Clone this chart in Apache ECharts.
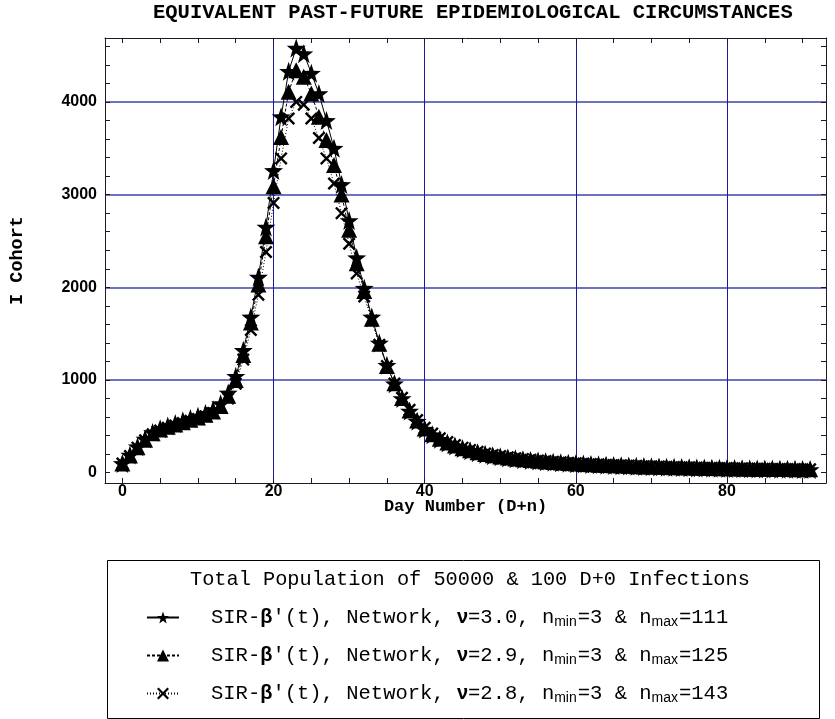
<!DOCTYPE html>
<html><head><meta charset="utf-8">
<script src="https://cdn.jsdelivr.net/npm/echarts@6/dist/echarts.min.js"></script>
<style>html,body{margin:0;padding:0;background:#fff}#c{width:835px;height:719px}</style>
</head><body><div id="c"></div>
<script>
const days = [0,1,2,3,4,5,6,7,8,9,10,11,12,13,14,15,16,17,18,19,20,21,22,23,24,25,26,27,28,29,30,31,32,33,34,35,36,37,38,39,40,41,42,43,44,45,46,47,48,49,50,51,52,53,54,55,56,57,58,59,60,61,62,63,64,65,66,67,68,69,70,71,72,73,74,75,76,77,78,79,80,81,82,83,84,85,86,87,88,89,90,91];
const starVals = [100,190,280,365,435,475,505,530,560,585,610,640,680,745,860,1040,1320,1680,2110,2650,3260,3840,4330,4580,4520,4310,4090,3800,3500,3110,2720,2320,1990,1680,1400,1160,960,800,665,555,470,410,360,320,288,260,236,216,199,184,171,160,150,141,133,126,119,113,107,102,97,93,89,85,81,78,75,72,69,67,64,62,60,58,56,54,52,51,49,48,46,45,44,42,41,40,39,38,37,36,35,34];
const triVals = [100,185,275,355,425,465,495,520,545,570,595,625,660,720,830,1000,1270,1620,2030,2550,3090,3620,4110,4340,4270,4090,3840,3590,3320,3000,2620,2260,1960,1660,1390,1150,965,805,672,562,478,416,366,326,293,265,241,221,203,188,175,164,154,145,137,129,122,116,110,105,100,95,91,87,83,80,77,74,71,68,66,64,62,60,58,56,54,52,51,49,48,46,45,44,43,42,41,40,39,38,37,36];
const crossVals = [100,180,270,350,415,455,485,510,535,560,580,610,645,700,800,960,1220,1540,1920,2380,2910,3390,3820,4000,3970,3820,3610,3390,3120,2800,2470,2150,1900,1640,1380,1150,962,808,678,568,484,422,372,331,298,270,246,225,207,192,179,167,157,148,140,132,125,119,113,108,103,98,94,90,86,83,80,77,74,71,69,66,64,62,60,58,56,54,53,51,50,48,47,46,45,44,42,41,40,39,38,37];
const seriesNames = ["SIR-β'(t), Network, ν=3.0, nmin=3 & nmax=111", "SIR-β'(t), Network, ν=2.9, nmin=3 & nmax=125", "SIR-β'(t), Network, ν=2.8, nmin=3 & nmax=143"];
const legendRich = ["{p|}SIR-{b|β}'(t), Network, {b|ν}=3.0, n{s|min}=3 & n{s|max}=111", "{p|}SIR-{b|β}'(t), Network, {b|ν}=2.9, n{s|min}=3 & n{s|max}=125", "{p|}SIR-{b|β}'(t), Network, {b|ν}=2.8, n{s|min}=3 & n{s|max}=143"];
const xTickVals = [0,5,10,15,20,25,30,35,40,45,50,55,60,65,70,75,80,85,90];
const xLabelVals = [0,20,40,60,80];
const xGridVals = [20,40,60,80];
const yTickVals = [0,200,400,600,800,1000,1200,1400,1600,1800,2000,2200,2400,2600,2800,3000,3200,3400,3600,3800,4000,4200,4400,4600];
const yLabelVals = [0,1000,2000,3000,4000];
const yGridVals = [1000,2000,3000,4000];
const titleText = 'EQUIVALENT PAST-FUTURE EPIDEMIOLOGICAL CIRCUMSTANCES';
const legendHeader = 'Total Population of 50000 & 100 D+0 Infections';

const STAR = 'path://M0,-10 L2.35,-3.24 L9.51,-3.09 L3.8,1.24 L5.88,8.09 L0,4 L-5.88,8.09 L-3.8,1.24 L-9.51,-3.09 L-2.35,-3.24 Z';
const CROSS = 'path://M1.3,0 L5,3.7 L8.7,0 L10,1.3 L6.3,5 L10,8.7 L8.7,10 L5,6.3 L1.3,10 L0,8.7 L3.7,5 L0,1.3 Z';

const X_MIN = -2.3, X_MAX = 93.1, Y_MIN = -111, Y_MAX = 4689;
const monoFont = 'Liberation Mono';
const pair = vals => vals.map((v, i) => [days[i], v]);
const plain = v => String(v);

const chart = echarts.init(document.getElementById('c'), null, {renderer: 'canvas'});
const axisLineStyle = {color: '#1a1a2a', width: 1};
const tickStyle = {color: '#1a1a2a', width: 1};
chart.setOption({
  animation: false,
  backgroundColor: '#fff',
  title: [
    {text: titleText, left: 148, top: -3, textStyle: {fontFamily: monoFont, fontWeight: 'bold', fontSize: 20.5, color: '#000'}},
    {text: legendHeader, left: 185, top: 565, textStyle: {fontFamily: monoFont, fontWeight: 'normal', fontSize: 20.3, color: '#000'}}
  ],
  graphic: [{type: 'rect', left: 105, top: 558, shape: {width: 712, height: 158}, style: {fill: 'none', stroke: '#000', lineWidth: 1}, silent: true}],
  grid: {left: 105, top: 38, width: 721, height: 445, containLabel: false},
  legend: {
    orient: 'vertical', left: 141, top: 602, itemGap: 16, itemWidth: 32, itemHeight: 15,
    data: seriesNames,
    formatter: name => legendRich[seriesNames.indexOf(name)],
    textStyle: {fontFamily: monoFont, fontSize: 20.5, color: '#000',
      rich: {
        p: {width: 27},
        b: {fontFamily: 'Liberation Sans', fontWeight: 'bold', fontSize: 20, color: '#000'},
        s: {fontFamily: 'Liberation Sans Narrow, Liberation Sans', fontSize: 14, color: '#000', verticalAlign: 'bottom', padding: [9, 1, 0, 0]}
      }}
  },
  xAxis: [
    {type: 'value', min: X_MIN, max: X_MAX, position: 'bottom',
      axisLine: {show: true, onZero: false, lineStyle: axisLineStyle},
      axisTick: {show: true, inside: true, length: 5, customValues: xTickVals, lineStyle: tickStyle},
      axisLabel: {show: true, customValues: xLabelVals, formatter: plain, margin: 1, fontFamily: 'Liberation Sans', fontWeight: 'bold', fontSize: 16, color: '#000'},
      splitLine: {show: false},
      name: 'Day Number (D+n)', nameLocation: 'middle', nameGap: 15, nameMoveOverlap: false,
      nameTextStyle: {fontFamily: monoFont, fontWeight: 'bold', fontSize: 17, color: '#000'}},
    {type: 'value', min: X_MIN, max: X_MAX, position: 'top',
      axisLine: {show: true, onZero: false, lineStyle: axisLineStyle},
      axisTick: {show: true, inside: true, length: 5, customValues: xTickVals, lineStyle: tickStyle},
      axisLabel: {show: false}, splitLine: {show: false}},
    {type: 'value', min: X_MIN, max: X_MAX, position: 'bottom',
      axisLine: {show: false, onZero: false},
      axisTick: {show: false, customValues: xGridVals},
      axisLabel: {show: false, customValues: xGridVals},
      splitLine: {show: true, lineStyle: {color: '#1c1c9a', width: 1}}}
  ],
  yAxis: [
    {type: 'value', min: Y_MIN, max: Y_MAX, position: 'left',
      axisLine: {show: true, onZero: false, lineStyle: axisLineStyle},
      axisTick: {show: true, inside: true, length: 5, customValues: yTickVals, lineStyle: tickStyle},
      axisLabel: {show: true, customValues: yLabelVals, formatter: plain, margin: 8, fontFamily: 'Liberation Sans', fontWeight: 'bold', fontSize: 16, color: '#000'},
      splitLine: {show: false},
      name: 'I Cohort', nameLocation: 'middle', nameGap: 78, nameRotate: 90, nameMoveOverlap: false,
      nameTextStyle: {fontFamily: monoFont, fontWeight: 'bold', fontSize: 18.5, color: '#000'}},
    {type: 'value', min: Y_MIN, max: Y_MAX, position: 'right',
      axisLine: {show: true, onZero: false, lineStyle: axisLineStyle},
      axisTick: {show: true, inside: true, length: 5, customValues: yTickVals, lineStyle: tickStyle},
      axisLabel: {show: false}, splitLine: {show: false}},
    {type: 'value', min: Y_MIN, max: Y_MAX, position: 'left',
      axisLine: {show: false, onZero: false},
      axisTick: {show: false, customValues: yGridVals},
      axisLabel: {show: false, customValues: yGridVals},
      splitLine: {show: true, lineStyle: {color: '#6d74bf', width: 2}}}
  ],
  series: [
    {name: seriesNames[0], type: 'line', data: pair(starVals), symbol: STAR, symbolSize: 19, z: 5,
      itemStyle: {color: '#000'}, lineStyle: {color: '#000', width: 1, type: 'solid'}},
    {name: seriesNames[1], type: 'line', data: pair(triVals), symbol: 'triangle', symbolSize: 16, z: 4,
      itemStyle: {color: '#000'}, lineStyle: {color: '#000', width: 1, type: [3, 2]}},
    {name: seriesNames[2], type: 'line', data: pair(crossVals), symbol: CROSS, symbolSize: 13, z: 3,
      itemStyle: {color: '#000'}, lineStyle: {color: '#000', width: 1, type: [1, 2]}}
  ]
});
</script></body></html>
